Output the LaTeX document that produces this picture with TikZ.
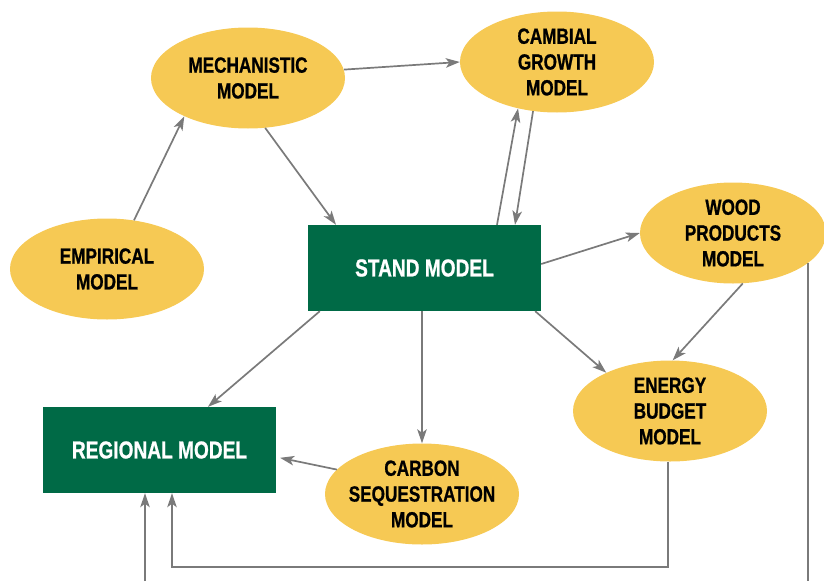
\documentclass[tikz,border=0pt]{standalone}
\usepackage{fontspec}
\newfontfamily\cond[FakeStretch=0.78,BoldFeatures={FakeStretch=0.78,FakeBold=0.8}]{Liberation Sans}
\usetikzlibrary{shapes.geometric,arrows.meta,calc}
\definecolor{ellyellow}{RGB}{246,201,84}
\definecolor{boxgreen}{RGB}{0,106,70}
\definecolor{arrgray}{RGB}{122,122,122}
\tikzset{
  modelell/.style={ellipse,fill=ellyellow,draw=none,inner xsep=-14pt,inner ysep=-4pt,
    minimum width=194pt,minimum height=101pt,align=center,text=black,
    font=\cond\bfseries\fontsize{22}{25.8}\selectfont},
  modelbox/.style={rectangle,fill=boxgreen,draw=none,inner sep=0pt,
    minimum width=233pt,minimum height=86pt,align=center,text=white,
    font=\cond\bfseries\fontsize{24.5}{28}\selectfont},
  conn/.style={draw=arrgray,line width=1.7pt,
    -{Stealth[length=14pt,width=9.5pt,inset=3.5pt]},color=arrgray},
  plainline/.style={draw=arrgray,line width=1.7pt}
}
\begin{document}
\begin{tikzpicture}[x=1pt,y=-1pt]
\useasboundingbox (0,0) rectangle (824,581);
\node[modelell] (mech) at (248,78) {MECHANISTIC\\MODEL};
\node[modelell] (camb) at (557,62) {CAMBIAL\\GROWTH\\MODEL};
\node[modelell] (emp) at (107,269) {EMPIRICAL\\MODEL};
\node[modelell,minimum width=186pt] (wood) at (733,233) {WOOD\\PRODUCTS\\MODEL};
\node[modelell] (energy) at (670,411) {ENERGY\\BUDGET\\MODEL};
\node[modelell] (carbon) at (422,494) {CARBON\\SEQUESTRATION\\MODEL};
\node[modelbox] (stand) at (424.5,268) {STAND MODEL};
\node[modelbox] (regional) at (159.5,450) {REGIONAL MODEL};
\coordinate (woodbot) at (807,581);
\coordinate (regbot) at (145,581);

\draw[conn] (emp.61) -- (mech.211);
\draw[conn] (mech.-71) -- ([xshift=-88.5pt]stand.north);
\draw[conn] (mech.5) -- (camb.180);
\draw[conn] ([xshift=72.5pt]stand.north) -- (camb.230);
\draw[conn] (camb.244) -- ([xshift=90.5pt]stand.north);
\draw[conn] ([yshift=4pt]stand.east) -- (wood.180);
\draw[conn] (wood.-79) -- (energy.87);
\draw[conn] ([xshift=-6pt]stand.south east) -- (energy.149);
\draw[conn] (stand.south -| carbon.north) -- (carbon.north);
\draw[conn] ([xshift=12pt]stand.south west) -- ([xshift=48.5pt]regional.north);
\draw[conn,shorten >=4pt] (carbon.164) -- ([yshift=-7pt]regional.east);
\draw[conn] ([xshift=-2pt]energy.south) -- ++(0,105) -| ([xshift=12.5pt]regional.south);
\draw[plainline] (wood.-22) -- (wood.-22 |- woodbot);
\draw[conn] (regbot) -- (regbot |- regional.south);
\end{tikzpicture}
\end{document}
